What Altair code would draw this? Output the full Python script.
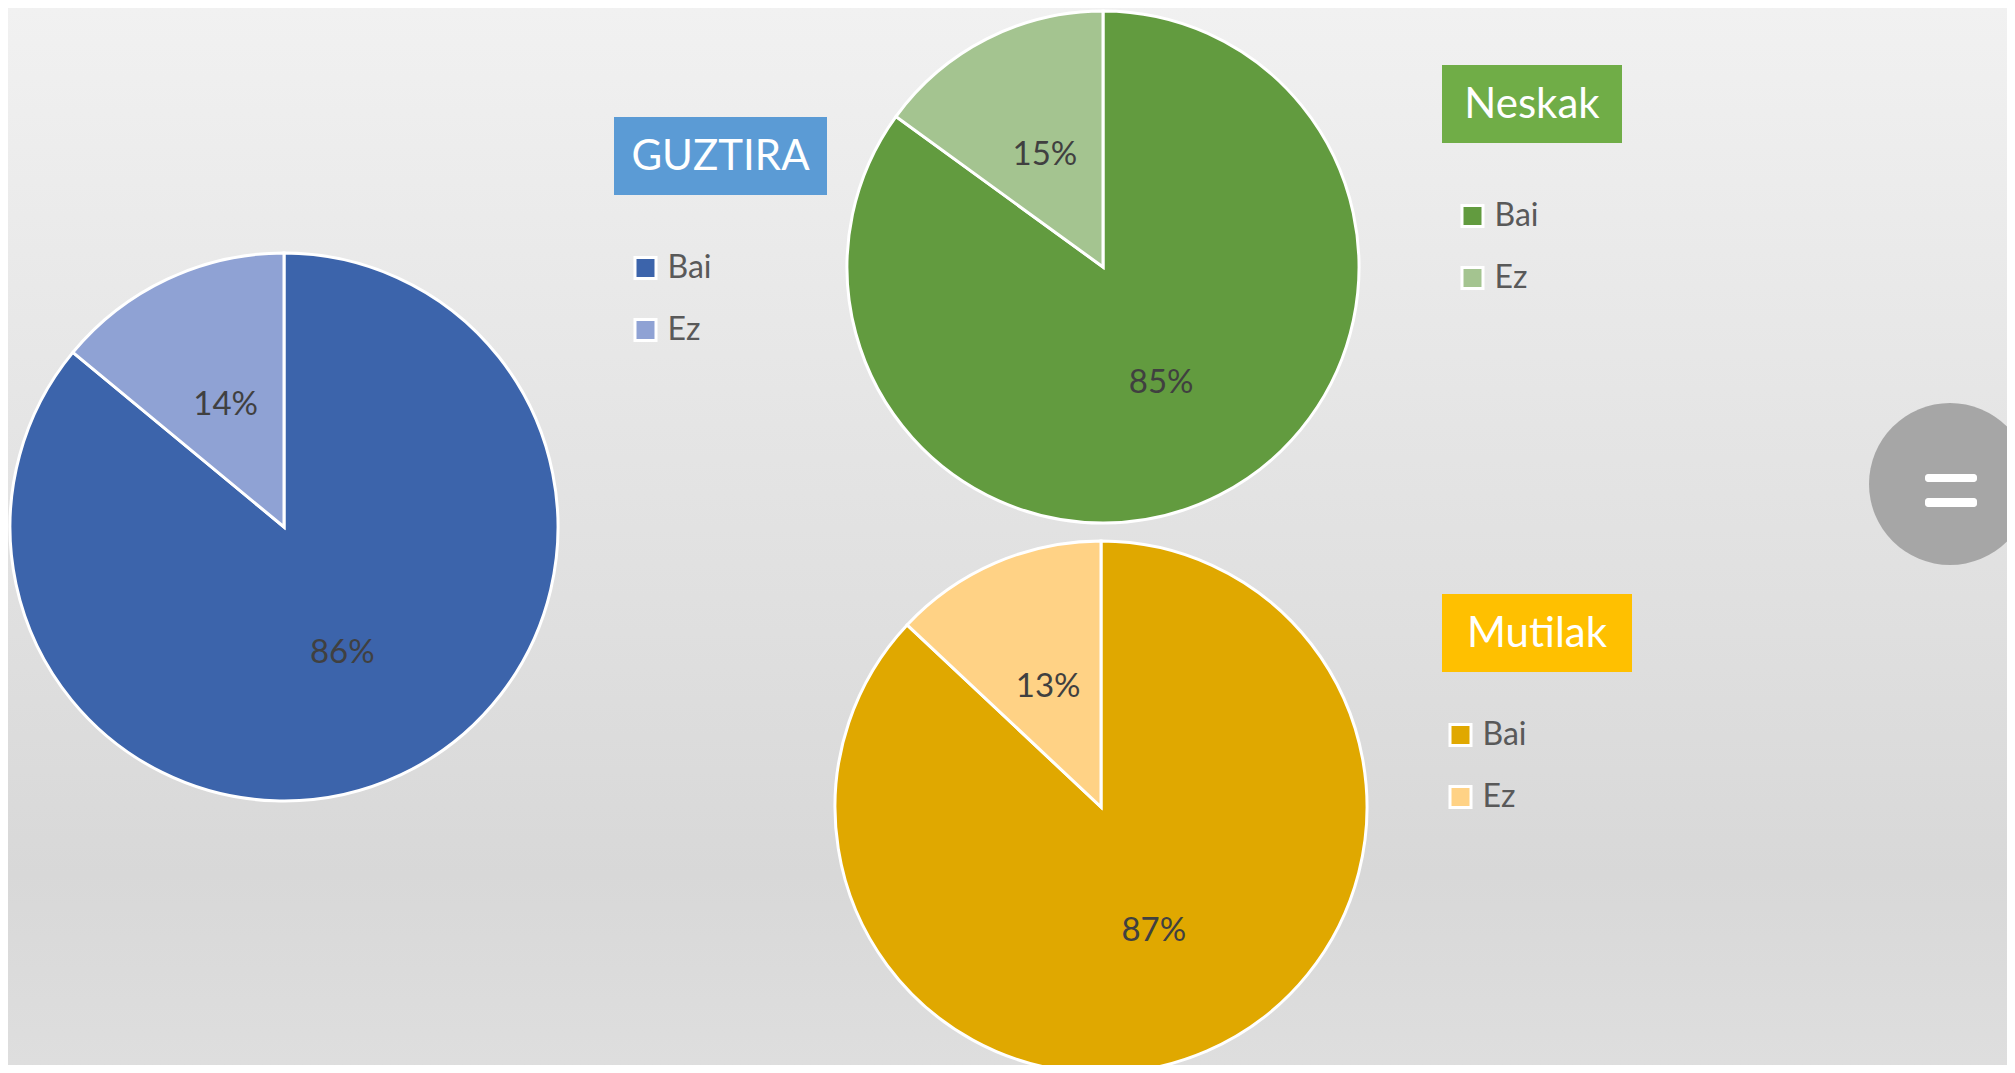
import altair as alt
import pandas as pd

# ---------------- data ----------------
categories = ["Bai", "Ez"]
guztira_values = [86, 14]
neskak_values = [85, 15]
mutilak_values = [87, 13]
titles = ["GUZTIRA", "Neskak", "Mutilak"]

# ---------------- layout / style ----------------
W, H = 1999, 1057
M = 8  # page margin: reference pixel coords minus this give chart coords
FONT = "Lato"

pies = [
    dict(title=titles[0], values=guztira_values, cx=284, cy=527, r=274,
         colors=["#3c64ab", "#8fa2d4"], title_color="#5b9bd5",
         box=(614, 117, 827, 195), legend=(632, 267)),
    dict(title=titles[1], values=neskak_values, cx=1103, cy=267, r=256,
         colors=["#629b3f", "#a4c490"], title_color="#70ad47",
         box=(1442, 65, 1622, 143), legend=(1459, 215)),
    dict(title=titles[2], values=mutilak_values, cx=1101, cy=807, r=266,
         colors=["#e0a800", "#ffd285"], title_color="#ffc000",
         box=(1442, 594, 1632, 672), legend=(1447, 734)),
]

one = alt.Data(values=[{}])

bg = alt.Chart(one).mark_rect(
    color=alt.LinearGradient(
        gradient="linear", x1=0, x2=0, y1=0, y2=1,
        stops=[alt.GradientStop(color="#f1f1f1", offset=0),
               alt.GradientStop(color="#d8d8d8", offset=0.82),
               alt.GradientStop(color="#dedede", offset=1)],
    )
).encode(x=alt.value(0), x2=alt.value(W), y=alt.value(0), y2=alt.value(H))

layers = [bg]

for p in pies:
    df = pd.DataFrame({"cat": categories, "value": p["values"],
                       "idx": list(range(len(categories)))})
    lx, ly = p["legend"]
    arc = alt.Chart(df).mark_arc(radius=p["r"], stroke="white", strokeWidth=3).encode(
        theta=alt.Theta("value:Q", stack=True),
        color=alt.Color(
            "cat:N",
            scale=alt.Scale(domain=categories, range=p["colors"]),
            legend=alt.Legend(
                orient="none", legendX=lx - 2.5 - M, legendY=ly - 15 - M,
                title=None, padding=0,
                symbolType="square", symbolSize=441,
                symbolStrokeColor="white", symbolStrokeWidth=3, symbolOpacity=1,
                labelFont=FONT, labelFontSize=32, labelColor="#595959",
                labelOffset=6, rowPadding=28,
            ),
        ),
        order=alt.Order("idx:Q"),
        x=alt.value(p["cx"] - M), y=alt.value(p["cy"] - M),
    )
    txt = alt.Chart(df).transform_calculate(
        label="datum.value + '%'"
    ).mark_text(radius=p["r"] * 0.5, font=FONT, fontSize=33, color="#404040").encode(
        theta=alt.Theta("value:Q", stack=True),
        order=alt.Order("idx:Q"),
        detail="cat:N",
        text=alt.Text("label:N"),
        x=alt.value(p["cx"] - M), y=alt.value(p["cy"] - M + 2),
    )
    x1, y1, x2, y2 = p["box"]
    box = alt.Chart(one).mark_rect(color=p["title_color"]).encode(
        x=alt.value(x1 - M), x2=alt.value(x2 - M), y=alt.value(y1 - M), y2=alt.value(y2 - M)
    )
    ttl = alt.Chart(alt.Data(values=[{"t": p["title"]}])).mark_text(
        font=FONT, fontSize=42, color="white", align="center", baseline="middle"
    ).encode(
        text="t:N",
        x=alt.value((x1 + x2) / 2 - M), y=alt.value((y1 + y2) / 2 - M + 1),
    )
    layers += [arc, txt, box, ttl]

circle = alt.Chart(one).mark_circle(size=162 ** 2, color="#a6a6a6", opacity=1).encode(
    x=alt.value(1950 - M), y=alt.value(484 - M)
)
eq1 = alt.Chart(one).mark_rect(color="white", cornerRadius=3).encode(
    x=alt.value(1925 - M), x2=alt.value(1977 - M), y=alt.value(474 - M), y2=alt.value(482 - M)
)
eq2 = alt.Chart(one).mark_rect(color="white", cornerRadius=3).encode(
    x=alt.value(1925 - M), x2=alt.value(1977 - M), y=alt.value(498 - M), y2=alt.value(507 - M)
)
layers += [circle, eq1, eq2]

chart = alt.layer(*layers).resolve_scale(color="independent").resolve_legend(
    color="independent"
).properties(
    width=W, height=H, autosize=alt.AutoSizeParams(type="none"), padding=0
).configure_view(stroke=None)

chart.save("out.html", embed_options={"renderer": "svg", "actions": False})
